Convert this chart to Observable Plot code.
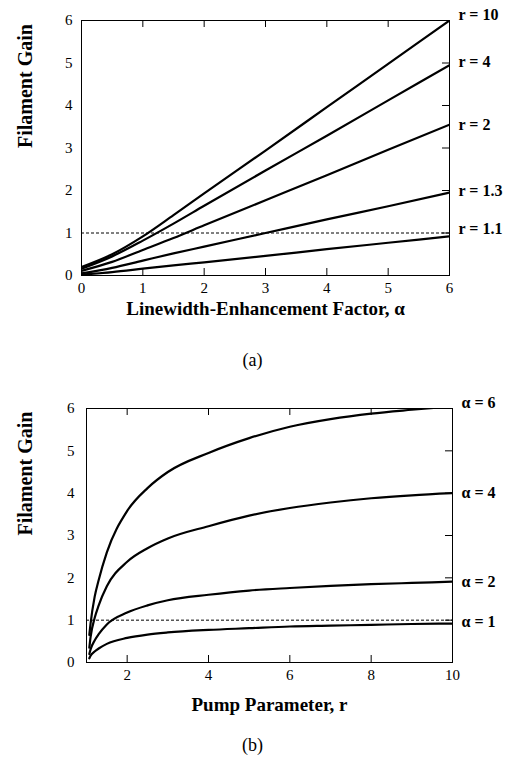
<!DOCTYPE html>
<html><head><meta charset="utf-8">
<script src="https://cdn.jsdelivr.net/npm/d3@7"></script>
<script src="https://cdn.jsdelivr.net/npm/@observablehq/plot@0.6"></script>
<style>
body{margin:0;background:#fff;}
#wrap{width:505px;}
.cap{width:505px;text-align:center;font-size:18px;font-family:"Liberation Serif",serif;color:#000;}
</style></head><body><div id="wrap"></div>
<script>
// ---- Panel (a): gain vs linewidth-enhancement factor ----
const alphaGrid = [0, 0.5, 1, 1.5, 2, 3, 4, 5, 6];
const seriesA = ["r = 10", "r = 4", "r = 2", "r = 1.3", "r = 1.1"];
const gainR10  = [0.20, 0.50, 0.92, 1.42, 1.93, 2.94, 3.96, 4.98, 6.00];
const gainR4   = [0.16, 0.45, 0.82, 1.22, 1.64, 2.47, 3.29, 4.12, 4.95];
const gainR2   = [0.11, 0.32, 0.60, 0.88, 1.18, 1.77, 2.36, 2.96, 3.55];
const gainR13  = [0.05, 0.18, 0.35, 0.52, 0.68, 1.00, 1.32, 1.63, 1.95];
const gainR11  = [0.02, 0.08, 0.16, 0.24, 0.31, 0.46, 0.62, 0.77, 0.92];
const xTicksA = [0, 1, 2, 3, 4, 5, 6];
const yTicks = [0, 1, 2, 3, 4, 5, 6];

// ---- Panel (b): gain vs pump parameter ----
const rGrid = [1.07, 1.1, 1.2, 1.3, 1.5, 2, 2.5, 3, 4, 5, 6, 7, 8, 9, 10];
const seriesB = ["α = 6", "α = 4", "α = 2", "α = 1"];
const gainA6 = [0.65, 0.92, 1.55, 1.95, 2.60, 3.58, 4.12, 4.50, 4.95, 5.30, 5.57, 5.75, 5.88, 5.97, 6.05];
const gainA4 = [0.35, 0.60, 1.05, 1.35, 1.80, 2.38, 2.70, 2.93, 3.22, 3.47, 3.65, 3.78, 3.88, 3.95, 4.00];
const gainA2 = [0.20, 0.31, 0.52, 0.67, 0.90, 1.18, 1.35, 1.47, 1.60, 1.70, 1.76, 1.81, 1.85, 1.88, 1.91];
const gainA1 = [0.10, 0.16, 0.26, 0.33, 0.44, 0.58, 0.66, 0.71, 0.77, 0.81, 0.85, 0.87, 0.89, 0.91, 0.92];
const xTicksB = [2, 4, 6, 8, 10];

const threshold = 1;
const yTitle = "Filament Gain";
const xTitleA = "Linewidth-Enhancement Factor, α";
const xTitleB = "Pump Parameter, r";

function longForm(xs, names, lists) {
  const rows = [];
  names.forEach((n, i) => lists[i].forEach((v, j) => rows.push({x: xs[j], y: v, s: n})));
  return rows;
}

function panel({xs, names, lists, xDomain, xTickLabels, innerXTicks, xTitle, titleDy, labelDy,
                width, height, mt, mb, ml, mr, yPad}) {
  const innerW = width - ml - mr, innerH = height - mt - mb;
  const rows = longForm(xs, names, lists);
  const yMax = 6;
  const labelMarks = names.map((n, i) => {
    const last = lists[i][lists[i].length - 1];
    return Plot.text([n], {x: xDomain[1], y: Math.min(last, yMax), text: d => d, textAnchor: "start",
      dx: 9, dy: labelDy[i], fontWeight: "bold", fontSize: 16});
  });
  return Plot.plot({
    width, height, marginTop: mt, marginBottom: mb, marginLeft: ml, marginRight: mr,
    style: {fontFamily: "Liberation Serif, serif", fontSize: "16px", color: "black", background: "white"},
    x: {domain: xDomain, label: null},
    y: {domain: [0, yMax], label: null},
    marks: [
      Plot.ruleY([threshold], {stroke: "black", strokeWidth: 1, strokeDasharray: "3,2"}),
      Plot.line(rows, {x: "x", y: "y", z: "s", stroke: "black", strokeWidth: 2.2, curve: "monotone-x", clip: true}),
      Plot.frame({stroke: "black", strokeWidth: 1}),
      Plot.tickX(innerXTicks, {x: d => d, insetTop: innerH - 7, stroke: "black"}),
      Plot.tickX(innerXTicks, {x: d => d, insetBottom: innerH - 7, stroke: "black"}),
      Plot.tickY(yTicks.slice(1, -1), {y: d => d, insetLeft: innerW - 7, stroke: "black"}),
      Plot.axisX(xTickLabels, {tickSize: 0, tickPadding: 7, fontSize: 15, label: null}),
      Plot.axisY(yTicks, {tickSize: 0, tickPadding: yPad, fontSize: 15, label: null}),
      Plot.text([xTitle], {frameAnchor: "bottom", dy: titleDy, fontWeight: "bold", fontSize: 19}),
      Plot.text([yTitle], {frameAnchor: "left", dx: -(ml - 25), rotate: -90, fontWeight: "bold", fontSize: 20}),
      ...labelMarks
    ]
  });
}

const wrap = document.getElementById("wrap");
wrap.append(panel({
  xs: alphaGrid, names: seriesA, lists: [gainR10, gainR4, gainR2, gainR13, gainR11],
  xDomain: [0, 6], xTickLabels: xTicksA, innerXTicks: xTicksA.slice(1, -1),
  xTitle: xTitleA, titleDy: 39, labelDy: [-6, -3, 0, -2, -8],
  width: 505, height: 330, mt: 20, mb: 55, ml: 81, mr: 56, yPad: 9
}));
const capA = document.createElement("div");
capA.className = "cap"; capA.style.height = "60px"; capA.style.lineHeight = "60px"; capA.textContent = "(a)";
wrap.append(capA);
wrap.append(panel({
  xs: rGrid, names: seriesB, lists: [gainA6, gainA4, gainA2, gainA1],
  xDomain: [1, 10], xTickLabels: xTicksB, innerXTicks: xTicksB.slice(0, -1),
  xTitle: xTitleB, titleDy: 48, labelDy: [-6, 0, 0, -2],
  width: 505, height: 335, mt: 18, mb: 63, ml: 86, mr: 53, yPad: 12
}));
const capB = document.createElement("div");
capB.className = "cap"; capB.style.height = "40px"; capB.style.lineHeight = "40px"; capB.textContent = "(b)";
wrap.append(capB);
</script></body></html>
